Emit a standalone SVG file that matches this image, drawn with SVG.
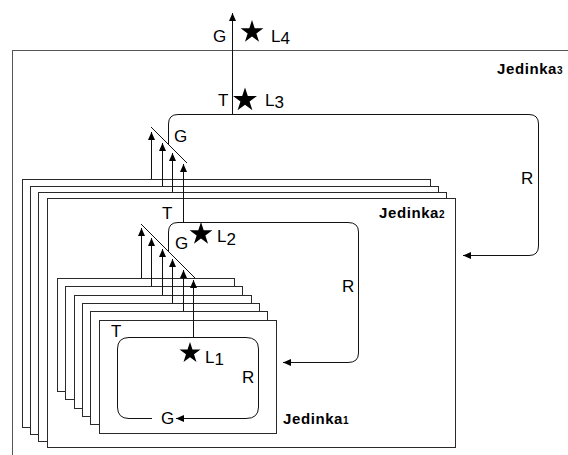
<svg xmlns="http://www.w3.org/2000/svg" xmlns:xlink="http://www.w3.org/1999/xlink" width="568" height="455" viewBox="0 0 568 455">
<style>
.box{fill:#fff;stroke:#2a2a2a;stroke-width:1}
.ln{fill:none;stroke:#111;stroke-width:1}
.arr{fill:none;stroke:#111;stroke-width:1;marker-end:url(#ah)}
.lbl{font-family:"Liberation Sans",Arial,sans-serif;font-size:17px;fill:#000}
.jed{font-family:"Liberation Sans",Arial,sans-serif;font-size:15px;font-weight:bold;letter-spacing:0.6px;fill:#000}
.sub{font-size:10px;letter-spacing:0}
</style>
<defs>
<marker id="ah" viewBox="0 0 8 7" refX="8" refY="3.5" markerWidth="8" markerHeight="7" markerUnits="userSpaceOnUse" orient="auto"><path d="M0,0 L8,3.5 L0,7 z" fill="#000"/></marker>
<path id="star" d="M0,-12 L2.69,-3.71 L11.41,-3.71 L4.36,1.42 L7.05,9.71 L0,4.58 L-7.05,9.71 L-4.36,1.42 L-11.41,-3.71 L-2.69,-3.71 Z" fill="#000"/>
</defs>
<rect width="568" height="455" fill="#fff"/>

<g id="jedinka3">
<rect class="box" x="12.5" y="50.5" width="600" height="450" style="stroke:#555"/>
<text class="jed" x="497" y="74">Jedinka<tspan class="sub">3</tspan></text>
</g>

<g id="jedinka2">
<rect class="box" x="22.5" y="179.5" width="408" height="248"/>
<rect class="box" x="30.5" y="186.5" width="408" height="248"/>
<rect class="box" x="38.5" y="192.5" width="408" height="249"/>
<rect class="box" x="47.5" y="198.5" width="408" height="249"/>
<text class="jed" x="379" y="218">Jedinka<tspan class="sub">2</tspan></text>
</g>

<g id="jedinka1">
<rect class="box" x="57.5" y="278.5" width="177" height="113"/>
<rect class="box" x="65.5" y="286.5" width="177" height="113"/>
<rect class="box" x="74.5" y="295.5" width="177" height="113"/>
<rect class="box" x="82.5" y="303.5" width="177" height="113"/>
<rect class="box" x="90.5" y="311.5" width="177" height="113"/>
<rect class="box" x="99.5" y="320.5" width="177" height="113"/>
<text class="jed" x="283" y="424">Jedinka<tspan class="sub">1</tspan></text>
</g>

<g id="connectors">
<line class="arr" x1="232.5" y1="114" x2="232.5" y2="13"/>
<path class="arr" d="M168.5,145 L168.5,124 Q168.5,114.5 178,114.5 L529,114.5 Q538.5,114.5 538.5,124 L538.5,246 Q538.5,255.5 529,255.5 L463,255.5"/>
<line class="ln" x1="151" y1="127" x2="187" y2="163"/>
<line class="arr" x1="151.5" y1="179" x2="151.5" y2="132"/>
<line class="arr" x1="162.5" y1="186" x2="162.5" y2="143"/>
<line class="arr" x1="172.5" y1="192" x2="172.5" y2="153"/>
<line class="arr" x1="183.5" y1="222" x2="183.5" y2="164"/>
<path class="arr" d="M168.5,252 L168.5,232 Q168.5,222.5 178,222.5 L348,222.5 Q358.5,222.5 358.5,232 L358.5,353 Q358.5,362.5 348,362.5 L283,362.5"/>
<line class="ln" x1="141" y1="224" x2="195" y2="278"/>
<line class="arr" x1="141.5" y1="278" x2="141.5" y2="228"/>
<line class="arr" x1="151.5" y1="286" x2="151.5" y2="238"/>
<line class="arr" x1="162.5" y1="295" x2="162.5" y2="249"/>
<line class="arr" x1="172.5" y1="303" x2="172.5" y2="259"/>
<line class="arr" x1="183.5" y1="311" x2="183.5" y2="270"/>
<line class="arr" x1="193.5" y1="337" x2="193.5" y2="280"/>
<path class="ln" d="M152,418.5 L129,418.5 Q117.5,418.5 117.5,407 L117.5,349 Q117.5,337.5 129,337.5 L246,337.5 Q258.5,337.5 258.5,349 L258.5,407 Q258.5,418.5 246,418.5 L180,418.5"/>
<line class="arr" x1="182" y1="418.5" x2="176" y2="418.5"/>
</g>

<g id="labels">
<text class="lbl" x="213" y="42">G</text>
<use xlink:href="#star" href="#star" transform="translate(252,32)"/>
<text class="lbl" x="271" y="42">L<tspan dy="2">4</tspan></text>

<text class="lbl" x="218" y="106">T</text>
<use xlink:href="#star" href="#star" transform="translate(245,100) scale(1.05)"/>
<text class="lbl" x="265" y="106">L<tspan dy="2">3</tspan></text>

<text class="lbl" x="174" y="142">G</text>
<text class="lbl" x="521" y="184">R</text>

<text class="lbl" x="162" y="219">T</text>
<text class="lbl" x="175" y="249">G</text>
<use xlink:href="#star" href="#star" transform="translate(201,234)"/>
<text class="lbl" x="217" y="242">L<tspan dy="3">2</tspan></text>
<text class="lbl" x="342" y="292">R</text>

<text class="lbl" x="111" y="337">T</text>
<use xlink:href="#star" href="#star" transform="translate(190,353) scale(0.92)"/>
<text class="lbl" x="205" y="363">L<tspan dy="2">1</tspan></text>
<text class="lbl" x="242" y="383">R</text>
<text class="lbl" x="161" y="424">G</text>
</g>
</svg>
